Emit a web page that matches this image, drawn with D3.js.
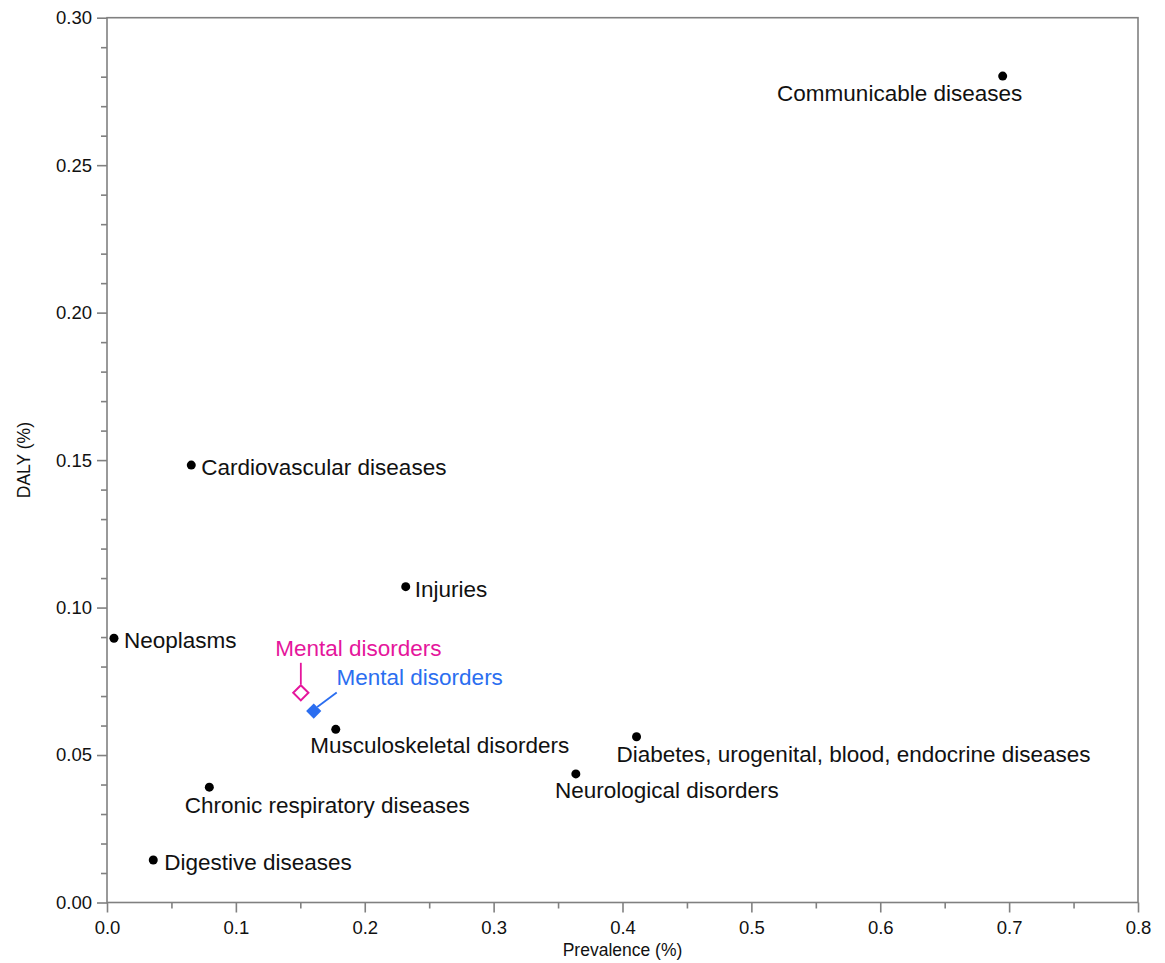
<!DOCTYPE html>
<html>
<head>
<meta charset="utf-8">
<script src="https://cdn.jsdelivr.net/npm/d3@7"></script>
<style>
  body { margin: 0; background: #fff; }
  svg { display: block; font-family: "Liberation Sans", Arial, Helvetica, sans-serif; }
  .axis text { font-size: 18.5px; fill: #111; }
  .axis line, .axis path { stroke: #808080; stroke-width: 1.6; }
  .label { font-size: 22.5px; fill: #111; }
  .title { font-size: 17.5px; fill: #111; }
</style>
</head>
<body>
<svg id="chart"></svg>
<script>
// disease groups (black dots)
const diseases = [
  "Communicable diseases",
  "Cardiovascular diseases",
  "Injuries",
  "Neoplasms",
  "Musculoskeletal disorders",
  "Diabetes, urogenital, blood, endocrine diseases",
  "Neurological disorders",
  "Chronic respiratory diseases",
  "Digestive diseases"
];
const prevalence = [0.695, 0.0654, 0.2318, 0.0054, 0.1775, 0.4109, 0.3638, 0.0794, 0.0359];
const daly = [0.2802, 0.1483, 0.1071, 0.0896, 0.0587, 0.0562, 0.0436, 0.0391, 0.0144];

// mental disorders, two estimates (hollow magenta, filled blue)
const mentalNames = ["Mental disorders", "Mental disorders"];
const mentalPrevalence = [0.1504, 0.1604];
const mentalDaly = [0.0711, 0.0649];

const xTickValues = [0, 0.1, 0.2, 0.3, 0.4, 0.5, 0.6, 0.7, 0.8];
const yTickValues = [0, 0.05, 0.10, 0.15, 0.20, 0.25, 0.30];

// label placement relative to the dot: [dx, dy, anchor]
const labelOffsets = {
  "Communicable diseases": [-103, 25, "middle"],
  "Cardiovascular diseases": [10, 10, "start"],
  "Injuries": [9, 10, "start"],
  "Neoplasms": [10, 10, "start"],
  "Musculoskeletal disorders": [104, 24, "middle"],
  "Diabetes, urogenital, blood, endocrine diseases": [217, 25, "middle"],
  "Neurological disorders": [91, 24, "middle"],
  "Chronic respiratory diseases": [118, 26, "middle"],
  "Digestive diseases": [11, 10, "start"]
};

const width = 1165;
const height = 963;
const margin = { top: 17.7, right: 27, bottom: 60.5, left: 107 };

const svg = d3.select("#chart")
  .attr("width", width)
  .attr("height", height);

const x = d3.scaleLinear()
  .domain([0, 0.8])
  .range([margin.left, width - margin.right]);

const y = d3.scaleLinear()
  .domain([0, 0.3])
  .range([height - margin.bottom, margin.top]);

const x0 = margin.left;
const x1 = width - margin.right;
const y0 = height - margin.bottom;
const y1 = margin.top;

// minor ticks
const xMinor = d3.range(0.05, 0.8, 0.1);
const yMinor = d3.range(1, 30).filter(i => i % 5 !== 0).map(i => i / 100);

svg.append("g")
  .attr("class", "axis")
  .attr("transform", `translate(0,${y0})`)
  .call(d3.axisBottom(x).tickValues(xMinor).tickSize(6).tickFormat(""))
  .call(g => g.select(".domain").remove());

svg.append("g")
  .attr("class", "axis")
  .attr("transform", `translate(${x0},0)`)
  .call(d3.axisLeft(y).tickValues(yMinor).tickSize(6).tickFormat(""))
  .call(g => g.select(".domain").remove());

svg.append("g")
  .attr("class", "axis")
  .attr("transform", `translate(0,${y0})`)
  .call(d3.axisBottom(x).tickValues(xTickValues).tickSize(10).tickPadding(8).tickFormat(d3.format(".1f")))
  .call(g => g.select(".domain").remove());

svg.append("g")
  .attr("class", "axis")
  .attr("transform", `translate(${x0},0)`)
  .call(d3.axisLeft(y).tickValues(yTickValues).tickSize(10).tickPadding(5).tickFormat(d3.format(".2f")))
  .call(g => g.select(".domain").remove());

// frame
svg.append("rect")
  .attr("x", x0)
  .attr("y", y1)
  .attr("width", x1 - x0)
  .attr("height", y0 - y1)
  .attr("fill", "none")
  .attr("stroke", "#808080")
  .attr("stroke-width", 1.6);

// axis titles
svg.append("text")
  .attr("class", "title")
  .attr("x", (x0 + x1) / 2)
  .attr("y", 956)
  .attr("text-anchor", "middle")
  .text("Prevalence (%)");

svg.append("text")
  .attr("class", "title")
  .attr("transform", `translate(30,${(y0 + y1) / 2}) rotate(-90)`)
  .attr("text-anchor", "middle")
  .text("DALY (%)");

// dots + labels
const points = diseases.map((name, i) => ({ name, px: prevalence[i], py: daly[i] }));

svg.append("g")
  .selectAll("circle")
  .data(points)
  .join("circle")
  .attr("cx", d => x(d.px))
  .attr("cy", d => y(d.py))
  .attr("r", 4.5)
  .attr("fill", "#000");

svg.append("g")
  .selectAll("text")
  .data(points)
  .join("text")
  .attr("class", "label")
  .attr("x", d => x(d.px) + labelOffsets[d.name][0])
  .attr("y", d => y(d.py) + labelOffsets[d.name][1])
  .attr("text-anchor", d => labelOffsets[d.name][2])
  .text(d => d.name);

// mental disorders
const magenta = "#e5169c";
const blue = "#2b6ef0";
const diamond = r => `M0,${-r}L${r},0L0,${r}L${-r},0Z`;

const mx = x(mentalPrevalence[0]);
const my = y(mentalDaly[0]);
const bx = x(mentalPrevalence[1]);
const by = y(mentalDaly[1]);

svg.append("line")
  .attr("x1", mx).attr("y1", my - 8.5)
  .attr("x2", mx).attr("y2", my - 30)
  .attr("stroke", magenta)
  .attr("stroke-width", 1.8);

svg.append("path")
  .attr("d", diamond(7.6))
  .attr("transform", `translate(${mx},${my})`)
  .attr("fill", "#fff")
  .attr("stroke", magenta)
  .attr("stroke-width", 2);

svg.append("text")
  .attr("class", "label")
  .attr("x", mx + 57.5)
  .attr("y", my - 37)
  .attr("text-anchor", "middle")
  .style("fill", magenta)
  .text(mentalNames[0]);

svg.append("line")
  .attr("x1", bx + 3.5).attr("y1", by - 4)
  .attr("x2", bx + 23).attr("y2", by - 18.5)
  .attr("stroke", blue)
  .attr("stroke-width", 1.8);

svg.append("path")
  .attr("d", diamond(7.6))
  .attr("transform", `translate(${bx},${by})`)
  .attr("fill", blue);

svg.append("text")
  .attr("class", "label")
  .attr("x", bx + 106)
  .attr("y", by - 26)
  .attr("text-anchor", "middle")
  .style("fill", blue)
  .text(mentalNames[1]);
</script>
</body>
</html>
